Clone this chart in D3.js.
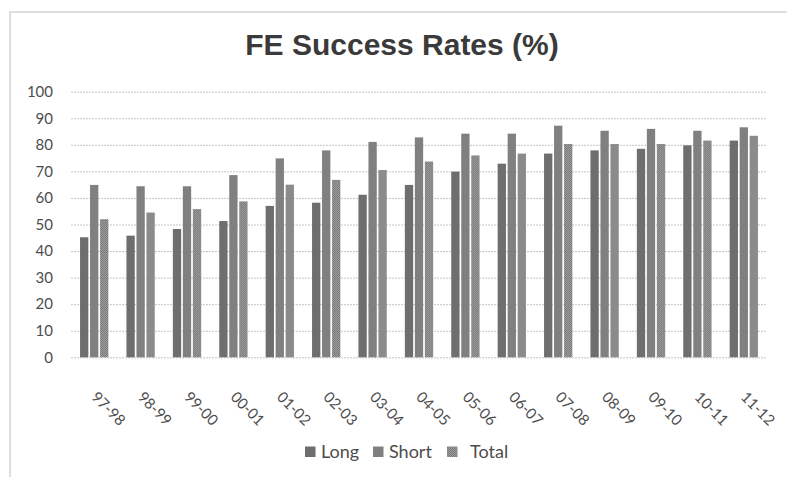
<!DOCTYPE html>
<html>
<head>
<meta charset="utf-8">
<script src="https://cdn.jsdelivr.net/npm/d3@7"></script>
<style>
  html, body { margin: 0; padding: 0; background: #fff; }
  svg { display: block; }
</style>
</head>
<body>
<svg id="chart" width="787" height="477"></svg>
<script>
// FE success rates by academic year
const years = ["97-98","98-99","99-00","00-01","01-02","02-03","03-04","04-05","05-06","06-07","07-08","08-09","09-10","10-11","11-12"];
const seriesNames = ["Long", "Short", "Total"];
const longRates  = [45.2, 45.8, 48.3, 51.3, 57.0, 58.2, 61.2, 64.9, 69.9, 72.9, 76.7, 77.9, 78.5, 79.8, 81.6];
const shortRates = [64.9, 64.4, 64.4, 68.6, 74.9, 77.9, 81.1, 82.8, 84.2, 84.2, 87.2, 85.3, 86.0, 85.3, 86.6];
const totalRates = [52.0, 54.5, 55.8, 58.7, 65.0, 66.8, 70.5, 73.7, 76.0, 76.7, 80.3, 80.3, 80.3, 81.6, 83.4];
const yTicks = [0, 10, 20, 30, 40, 50, 60, 70, 80, 90, 100];

const seriesValues = { Long: longRates, Short: shortRates, Total: totalRates };

const svg = d3.select("#chart");
const W = 787, H = 477;
const labelFont = "Lato, 'Open Sans', sans-serif";
const labelColor = "#4d4d4d";

// chart frame
svg.append("rect")
  .attr("x", 10).attr("y", 12)
  .attr("width", W + 20).attr("height", H + 20)
  .attr("fill", "#fff")
  .attr("stroke", "#d4d4d4")
  .attr("stroke-width", 1.5);

// textured fill for the Total series
const defs = svg.append("defs");
const pat = defs.append("pattern")
  .attr("id", "dots")
  .attr("width", 2).attr("height", 2)
  .attr("patternUnits", "userSpaceOnUse");
pat.append("rect").attr("width", 2).attr("height", 2).attr("fill", "#9c9c9c");
pat.append("rect").attr("width", 1).attr("height", 1).attr("fill", "#7a7a7a");
pat.append("rect").attr("x", 1).attr("y", 1).attr("width", 1).attr("height", 1).attr("fill", "#7a7a7a");

const colors = { Long: "#6e6e6e", Short: "#808080", Total: "url(#dots)" };

const plot = { left: 71, right: 767, top: 91.7, bottom: 357.3 };

const x = d3.scaleBand()
  .domain(years)
  .range([plot.left, plot.right])
  .paddingInner(0.39)
  .paddingOuter(0.195);

const xInner = d3.scaleBand()
  .domain(seriesNames)
  .range([0, x.bandwidth()])
  .paddingInner(0.17);

const y = d3.scaleLinear()
  .domain([0, 100])
  .range([plot.bottom, plot.top]);

// title
svg.append("text")
  .attr("x", 402)
  .attr("y", 55)
  .attr("text-anchor", "middle")
  .attr("font-family", "'Liberation Sans', Arial, sans-serif")
  .attr("font-weight", "bold")
  .attr("font-size", 30)
  .attr("fill", "#3a3a3a")
  .text("FE Success Rates (%)");

// gridlines and value axis
const yAxis = d3.axisLeft(y)
  .tickValues(yTicks)
  .tickSize(-(plot.right - plot.left))
  .tickPadding(18)
  .tickFormat(d3.format("d"));

const gy = svg.append("g")
  .attr("transform", `translate(${plot.left},0)`)
  .call(yAxis);
gy.select(".domain").remove();
gy.selectAll(".tick line")
  .attr("stroke", "#c4c4c4")
  .attr("stroke-width", 1)
  .attr("stroke-dasharray", "2,1");
gy.selectAll(".tick text")
  .attr("font-family", labelFont)
  .attr("font-size", 15)
  .attr("fill", labelColor);

// bars
const groups = svg.append("g")
  .selectAll("g")
  .data(years)
  .join("g")
  .attr("transform", d => `translate(${x(d)},0)`);

groups.selectAll("rect")
  .data((d, i) => seriesNames.map(s => ({ series: s, value: seriesValues[s][i] })))
  .join("rect")
  .attr("x", d => xInner(d.series))
  .attr("width", xInner.bandwidth())
  .attr("y", d => y(d.value))
  .attr("height", d => y(0) - y(d.value))
  .attr("fill", d => colors[d.series]);

// category labels
const xAxis = d3.axisBottom(x).tickSize(0);
const gx = svg.append("g")
  .attr("transform", `translate(0,${plot.bottom})`)
  .call(xAxis);
gx.select(".domain").remove();
gx.selectAll(".tick text")
  .attr("font-family", labelFont)
  .attr("font-size", 15)
  .attr("fill", labelColor)
  .attr("text-anchor", "start")
  .attr("x", 0).attr("y", 0)
  .attr("dy", "0.35em")
  .attr("transform", "translate(0,37) rotate(45)");

// legend
const legendItems = [
  { name: "Long", sx: 305, tx: 321 },
  { name: "Short", sx: 373, tx: 389 },
  { name: "Total", sx: 447, tx: 470 }
];
const lg = svg.append("g");
lg.selectAll("rect")
  .data(legendItems)
  .join("rect")
  .attr("x", d => d.sx)
  .attr("y", 446.5)
  .attr("width", 10.5)
  .attr("height", 10.5)
  .attr("fill", d => colors[d.name]);
lg.selectAll("text")
  .data(legendItems)
  .join("text")
  .attr("x", d => d.tx)
  .attr("y", 458.3)
  .attr("font-family", labelFont)
  .attr("font-size", 18)
  .attr("fill", labelColor)
  .text(d => d.name);
</script>
</body>
</html>
